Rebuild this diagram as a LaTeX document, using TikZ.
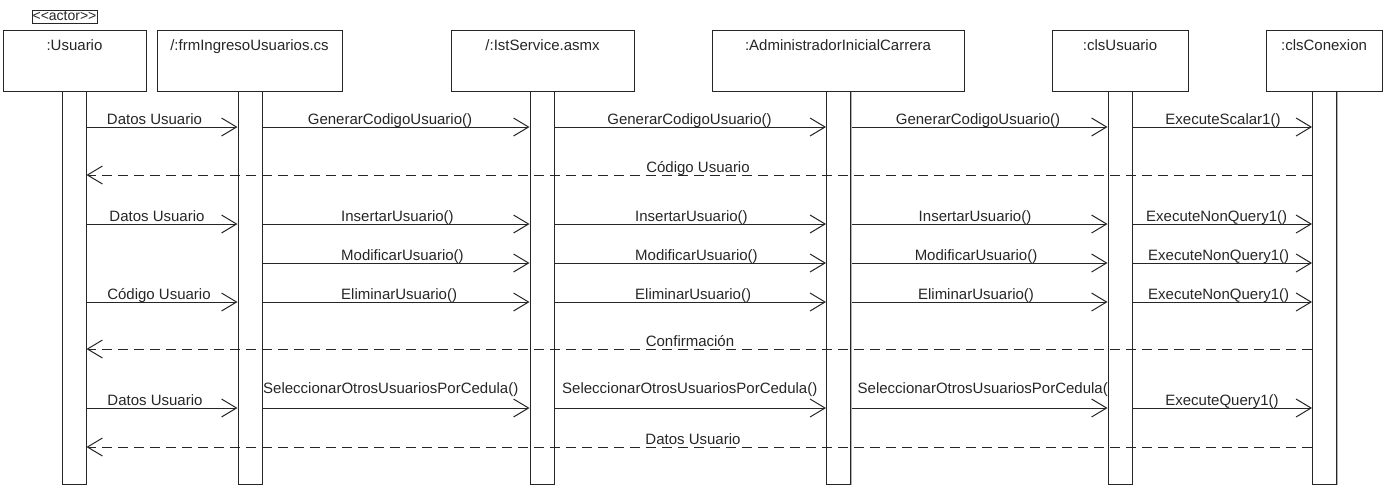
\documentclass[tikz,border=0pt]{standalone}
\usepackage{fontspec}
\setmainfont{Liberation Sans}
\newfontfamily\plainfont{Liberation Sans}
\usetikzlibrary{arrows.meta,calc}
\pgfdeclarelayer{bg}
\pgfsetlayers{bg,main}

\begin{document}
\begin{tikzpicture}[x=1pt,y=-1pt,
  every node/.style={font=\fontsize{15}{18}\selectfont, text=black!85, inner sep=0pt},
  shade/.style={preaction={fill=black!30, transform canvas={xshift=1.3pt,yshift=-1.3pt}}},
  objbox/.style={draw=black!85, line width=1pt, fill=white, shade, minimum width=#1, minimum height=61pt},
  bar/.style={draw=black!85, line width=1pt, fill=white, shade, minimum width=24pt, minimum height=393pt},
  lbl/.style={anchor=base},
  msg/.style={draw=black!85, line width=1pt, -{Straight Barb[length=15pt,width=18pt]}},
  ret/.style={msg, dash pattern=on 10pt off 6pt},
]
\useasboundingbox (0,0) rectangle (1383,488);

% stereotype tag of the actor
\node[draw=black!85, line width=1pt, minimum width=65pt, minimum height=13pt,
      font=\plainfont\fontsize{14}{14}\selectfont] (stereo) at (64.5,16.5) {<<actor>>};

% lifeline heads
\node[objbox=143pt] (hU) at (74.5,60.5) {};
\node[objbox=185pt] (hF) at (249.5,60.5) {};
\node[objbox=183pt] (hI) at (542.5,60.5) {};
\node[objbox=252pt] (hA) at (838,60.5) {};
\node[objbox=136pt] (hC) at (1120,60.5) {};
\node[objbox=116pt] (hX) at (1324,60.5) {};
\node[lbl] at (hU.center |- 0,50) {:Usuario};
\node[lbl] at (hF.center |- 0,50) {/:frmIngresoUsuarios.cs};
\node[lbl] at (hI.center |- 0,50) {/:IstService.asmx};
\node[lbl] at (hA.center |- 0,50) {:AdministradorInicialCarrera};
\node[lbl] at (hC.center |- 0,50) {:clsUsuario};
\node[lbl] at (hX.center |- 0,50) {:clsConexion};

% activation bars
\node[bar] (bU) at (74,287.5) {};
\node[bar] (bF) at (250,287.5) {};
\node[bar] (bI) at (542,287.5) {};
\node[bar] (bA) at (838.5,287.5) {};
\node[bar] (bC) at (1120,287.5) {};
\node[bar] (bX) at (1324.5,287.5) {};

% message rows
\coordinate (r1) at (0,127);
\coordinate (r2) at (0,175);
\coordinate (r3) at (0,224);
\coordinate (r4) at (0,263);
\coordinate (r5) at (0,302);
\coordinate (r6) at (0,349);
\coordinate (r7) at (0,408);
\coordinate (r8) at (0,447);

\begin{pgfonlayer}{bg}
% GenerarCodigoUsuario
\draw[msg] (bU.east |- r1) -- (bF.west |- r1);
\draw[msg] (bF.east |- r1) -- (bI.west |- r1);
\draw[msg] (bI.east |- r1) -- (bA.west |- r1);
\draw[msg] (bA.east |- r1) -- (bC.west |- r1);
\draw[msg] (bC.east |- r1) -- (bX.west |- r1);
\node[lbl] at (154.5,124.5) {Datos Usuario};
\node[lbl] at (390,124.5) {GenerarCodigoUsuario()};
\node[lbl] at (689.5,124.5) {GenerarCodigoUsuario()};
\node[lbl] at (978,124.5) {GenerarCodigoUsuario()};
\node[lbl] at (1223,124.5) {ExecuteScalar1()};
\node[lbl] at (698,172.5) {Código Usuario};

% InsertarUsuario
\draw[msg] (bU.east |- r3) -- (bF.west |- r3);
\draw[msg] (bF.east |- r3) -- (bI.west |- r3);
\draw[msg] (bI.east |- r3) -- (bA.west |- r3);
\draw[msg] (bA.east |- r3) -- (bC.west |- r3);
\draw[msg] (bC.east |- r3) -- (bX.west |- r3);
\node[lbl] at (157,221.5) {Datos Usuario};
\node[lbl, anchor=base west] at (341,221.5) {InsertarUsuario()};
\node[lbl, anchor=base west] at (635,221.5) {InsertarUsuario()};
\node[lbl] at (975,221.5) {InsertarUsuario()};
\node[lbl, anchor=base west] at (1146,221.5) {ExecuteNonQuery1()};

% ModificarUsuario
\draw[msg] (bF.east |- r4) -- (bI.west |- r4);
\draw[msg] (bI.east |- r4) -- (bA.west |- r4);
\draw[msg] (bA.east |- r4) -- (bC.west |- r4);
\draw[msg] (bC.east |- r4) -- (bX.west |- r4);
\node[lbl, anchor=base west] at (341,260.5) {ModificarUsuario()};
\node[lbl, anchor=base west] at (635,260.5) {ModificarUsuario()};
\node[lbl] at (976,260.5) {ModificarUsuario()};
\node[lbl, anchor=base west] at (1148,260.5) {ExecuteNonQuery1()};

% EliminarUsuario
\draw[msg] (bU.east |- r5) -- (bF.west |- r5);
\draw[msg] (bF.east |- r5) -- (bI.west |- r5);
\draw[msg] (bI.east |- r5) -- (bA.west |- r5);
\draw[msg] (bA.east |- r5) -- (bC.west |- r5);
\draw[msg] (bC.east |- r5) -- (bX.west |- r5);
\node[lbl] at (159,299.5) {Código Usuario};
\node[lbl, anchor=base west] at (341,299.5) {EliminarUsuario()};
\node[lbl, anchor=base west] at (635,299.5) {EliminarUsuario()};
\node[lbl] at (976,299.5) {EliminarUsuario()};
\node[lbl, anchor=base west] at (1148,299.5) {ExecuteNonQuery1()};
\node[lbl] at (690,346.5) {Confirmación};

% SeleccionarOtrosUsuariosPorCedula
\draw[msg] (bU.east |- r7) -- (bF.west |- r7);
\draw[msg] (bF.east |- r7) -- (bI.west |- r7);
\draw[msg] (bI.east |- r7) -- (bA.west |- r7);
\draw[msg] (bA.east |- r7) -- (bC.west |- r7);
\draw[msg] (bC.east |- r7) -- (bX.west |- r7);
\node[lbl] at (155,405.5) {Datos Usuario};
\node[lbl, anchor=base west] at (263,393) {SeleccionarOtrosUsuariosPorCedula()};
\node[lbl, anchor=base west] at (562,393) {SeleccionarOtrosUsuariosPorCedula()};
\node[lbl, anchor=base east] at (1113,393) {SeleccionarOtrosUsuariosPorCedula()};
\node[lbl] at (1222,405.5) {ExecuteQuery1()};
\node[lbl] at (693,444.5) {Datos Usuario};
\end{pgfonlayer}

% replies back to the user
\draw[ret] (bX.west |- r2) -- (bU.east |- r2);
\draw[ret] (bX.west |- r6) -- (bU.east |- r6);
\draw[ret] (bX.west |- r8) -- (bU.east |- r8);
\end{tikzpicture}
\end{document}
